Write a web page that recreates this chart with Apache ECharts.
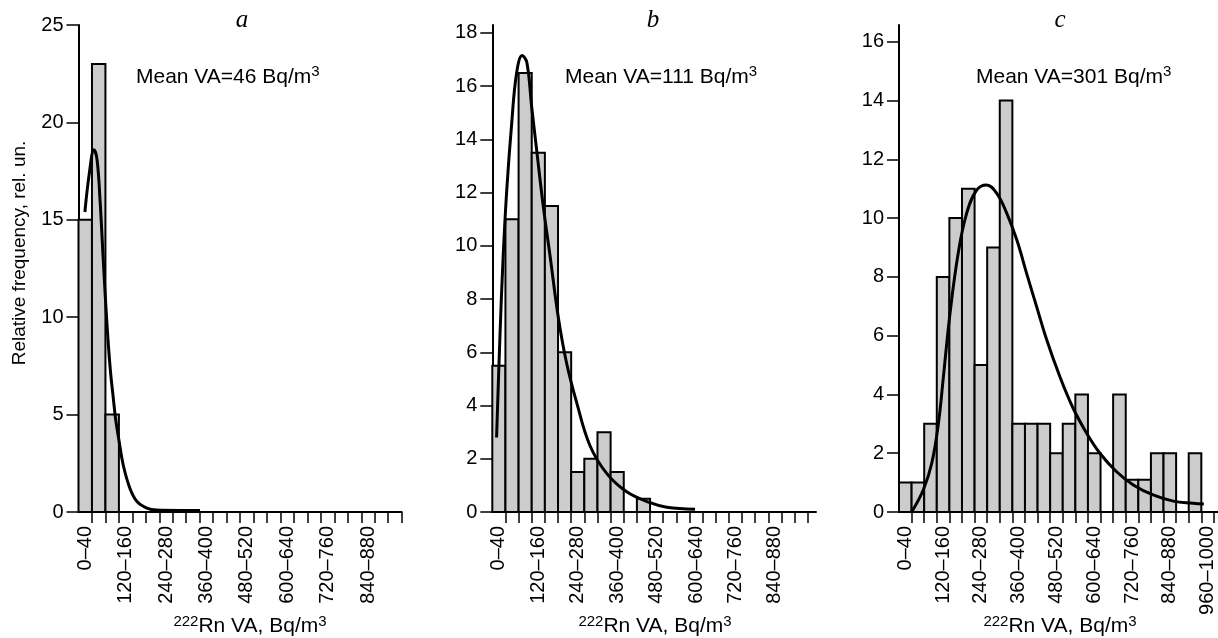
<!DOCTYPE html>
<html>
<head>
<meta charset="utf-8">
<script src="https://cdn.jsdelivr.net/npm/echarts@6/dist/echarts.min.js"></script>
<style>
  html, body { margin: 0; padding: 0; background: #fff; }
  #main { width: 1218px; height: 638px; }
</style>
</head>
<body>
<div id="main"></div>
<script>
// bin width, Bq/m3
const BIN = 40;

// relative frequency per bin (0-40, 40-80, ...)
const countsA = [15, 23, 5];
const countsB = [5.5, 11, 16.5, 13.5, 11.5, 6, 1.5, 2, 3, 1.5, 0, 0.5];
const countsC = [1, 1, 3, 8, 10, 11, 5, 9, 14, 3, 3, 3, 2, 3, 4, 2, 0, 4, 1.1, 1.1, 2, 2, 0, 2, 0];

// fitted curves: [VA, frequency]
const curveA = [[19, 15.4], [33, 17.5], [46, 18.6], [55, 18.1], [64, 16.0], [74, 12.8], [84, 9.8],
  [94, 7.4], [103, 5.9], [110, 4.8], [120, 3.7], [133, 2.4], [153, 1.2], [173, 0.55], [203, 0.2],
  [232, 0.1], [300, 0.08], [361, 0.08]];
const curveB = [[13, 2.8], [23, 6.5], [33, 9.6], [44, 12.1], [59, 14.6], [74, 16.5], [91, 17.15],
  [105, 16.9], [120, 15.2], [135, 13.6], [155, 11.5], [176, 9.6], [201, 7.3], [226, 5.6], [257, 4.1],
  [297, 2.5], [348, 1.45], [409, 0.76], [480, 0.35], [531, 0.18], [617, 0.1]];
const curveC = [[40, 0], [77, 0.75], [104, 1.66], [125, 3.0], [141, 4.6], [162, 6.76], [188, 8.8],
  [215, 10.17], [247, 10.96], [278, 11.13], [310, 10.85], [342, 10.17], [374, 9.26], [405, 8.13],
  [437, 6.99], [469, 5.86], [511, 4.6], [553, 3.53], [596, 2.68], [638, 2.0], [691, 1.37],
  [744, 0.92], [807, 0.58], [871, 0.37], [934, 0.3], [968, 0.27]];

// tick labels
const tickLabelsAB = ['0–40', '120–160', '240–280', '360–400', '480–520', '600–640', '720–760', '840–880'];
const tickLabelsC = ['0–40', '120–160', '240–280', '360–400', '480–520', '600–640', '720–760', '840–880', '960–1000'];
const yTicksA = [0, 5, 10, 15, 20, 25];
const yTicksB = [0, 2, 4, 6, 8, 10, 12, 14, 16, 18];
const yTicksC = [0, 2, 4, 6, 8, 10, 12, 14, 16];

const meanVA = [46, 111, 301];
const panelNames = ['a', 'b', 'c'];

const font = '"Liberation Sans", Arial, sans-serif';

const panels = [
  { counts: countsA, curve: curveA, labels: tickLabelsAB, yTicks: yTicksA, bins: 24, xMax: 960, yMax: 25,
    left: 78.5, width: 323.2, letterX: 242, meanX: 136, titleX: 250 },
  { counts: countsB, curve: curveB, labels: tickLabelsAB, yTicks: yTicksB, bins: 24, xMax: 985, yMax: 18.3,
    left: 492.3, width: 323.7, letterX: 653, meanX: 565, titleX: 655 },
  { counts: countsC, curve: curveC, labels: tickLabelsC, yTicks: yTicksC, bins: 25, xMax: 1013, yMax: 16.57,
    left: 899, width: 319, letterX: 1060, meanX: 976, titleX: 1060 }
];

function renderBar(params, api) {
  const v = api.value(2);
  if (!v) return;
  const p0 = api.coord([api.value(0), v]);
  const p1 = api.coord([api.value(1), 0]);
  return {
    type: 'rect',
    shape: { x: p0[0], y: p0[1], width: p1[0] - p0[0], height: p1[1] - p0[1] },
    style: { fill: '#cccccc', stroke: '#000', lineWidth: 2 }
  };
}

const grid = [], xAxis = [], yAxis = [], series = [], graphic = [];

panels.forEach((p, i) => {
  grid.push({ left: p.left, width: p.width, top: 25, bottom: 126 });

  const tickPos = [];
  for (let k = 1; k <= p.bins; k++) tickPos.push(k * BIN);
  const labelMap = {};
  p.labels.forEach(s => { labelMap[parseInt(s) + BIN / 2] = s; });

  xAxis.push({
    type: 'value', gridIndex: i, min: 0, max: p.xMax,
    axisLine: { show: true, lineStyle: { color: '#000', width: 2 } },
    axisTick: { show: true, length: 11, customValues: tickPos, lineStyle: { color: '#000', width: 1.5 } },
    axisLabel: {
      customValues: Object.keys(labelMap).map(Number),
      formatter: v => labelMap[v] || '',
      rotate: 90, margin: 14, color: '#000', fontSize: 20, fontFamily: font
    },
    splitLine: { show: false }
  });

  yAxis.push({
    type: 'value', gridIndex: i, min: 0, max: p.yMax,
    axisLine: { show: true, lineStyle: { color: '#000', width: 2 } },
    axisTick: { show: true, length: 12, customValues: p.yTicks, lineStyle: { color: '#000', width: 1.5 } },
    axisLabel: { customValues: p.yTicks, margin: 15, color: '#000', fontSize: 20, fontFamily: font },
    splitLine: { show: false }
  });

  series.push({
    type: 'custom', xAxisIndex: i, yAxisIndex: i, renderItem: renderBar, silent: true,
    encode: { x: [0, 1], y: 2 },
    data: p.counts.map((v, k) => [k * BIN, (k + 1) * BIN, v])
  });
  series.push({
    type: 'line', xAxisIndex: i, yAxisIndex: i, data: p.curve, smooth: 0.4,
    showSymbol: false, silent: true, lineStyle: { color: '#000', width: 3 }
  });

  graphic.push({
    type: 'text', x: p.letterX, y: 20,
    style: { text: panelNames[i], fontSize: 25, fontStyle: 'italic', fontFamily: '"Liberation Serif", "Times New Roman", serif',
      fill: '#000', align: 'center', verticalAlign: 'middle' }
  });
  graphic.push({
    type: 'text', x: p.meanX, y: 77,
    style: { text: 'Mean VA=' + meanVA[i] + ' Bq/m{sup|3}', fontSize: 21, fontFamily: font, fill: '#000',
      align: 'left', verticalAlign: 'middle', lineHeight: 25,
      rich: { sup: { fontSize: 15, fontFamily: font, fill: '#000', verticalAlign: 'top', lineHeight: 15 } } }
  });
  graphic.push({
    type: 'text', x: p.titleX, y: 626,
    style: { text: '{sup|222}Rn VA, Bq/m{sup|3}', fontSize: 21, fontFamily: font, fill: '#000',
      align: 'center', verticalAlign: 'middle', lineHeight: 24,
      rich: { sup: { fontSize: 15, fontFamily: font, fill: '#000', verticalAlign: 'top', lineHeight: 15 } } }
  });
});

graphic.push({
  type: 'text', x: 20, y: 253, rotation: Math.PI / 2,
  style: { text: 'Relative frequency, rel. un.', fontSize: 19, fontFamily: font, fill: '#000',
    align: 'center', verticalAlign: 'middle' }
});

const chart = echarts.init(document.getElementById('main'));
chart.setOption({
  animation: false,
  backgroundColor: '#fff',
  grid, xAxis, yAxis, series, graphic
});
</script>
</body>
</html>
